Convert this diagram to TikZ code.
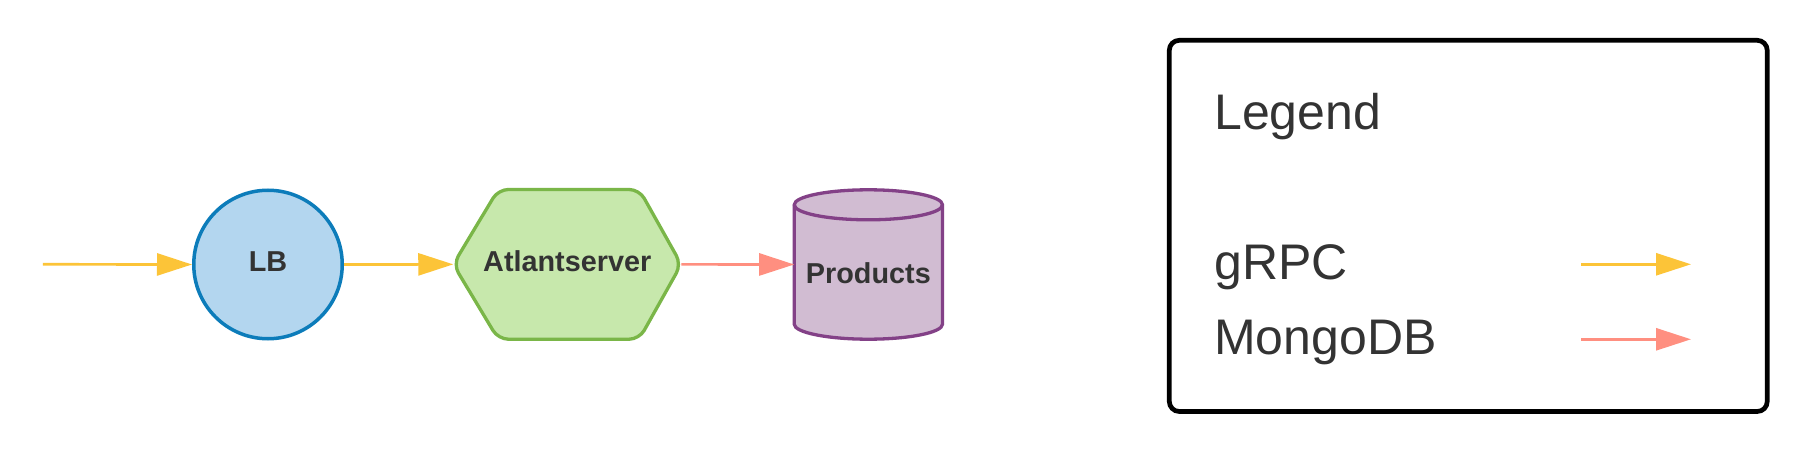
\documentclass[tikz,border=0pt]{standalone}
\usepackage{fontspec}
\setmainfont{Liberation Sans}
\usetikzlibrary{arrows.meta,calc}
\definecolor{cyel}{HTML}{FCC438}
\definecolor{csal}{HTML}{FF8F80}
\definecolor{lbfill}{HTML}{B3D6EF}
\definecolor{lbdraw}{HTML}{0C7CBA}
\definecolor{hexfill}{HTML}{C7E8AC}
\definecolor{hexdraw}{HTML}{7AB648}
\definecolor{cylfill}{HTML}{D1BCD2}
\definecolor{cyldraw}{HTML}{834187}
\definecolor{txt}{HTML}{333333}
\tikzset{
  conn/.style={line width=2.7pt,-{Triangle[length=35pt,width=22pt]}},
  grpc/.style={conn,draw=cyel,fill=cyel},
  mongo/.style={conn,draw=csal,fill=csal},
  lbl/.style={font=\fontsize{28.8}{32}\selectfont\bfseries,text=txt},
  legtxt/.style={font=\fontsize{50}{58}\selectfont,text=txt,anchor=base west,inner sep=0pt},
  ghost/.style={draw=none,inner sep=0pt,outer sep=0pt}
}
\begin{document}
\begin{tikzpicture}[x=1pt,y=1pt]
\useasboundingbox (0,0) rectangle (1817,456);
\fill[white] (0,0) rectangle (1817,456);
% nodes
\coordinate (in) at (42.9,191.7);
\node[circle,minimum size=148.5pt,line width=3.5pt,draw=lbdraw,fill=lbfill,lbl,text depth=6pt,inner sep=0pt] (lb) at (268,191.5) {LB};
\node[ghost,minimum width=228pt,minimum height=149.7pt] (atl) at (567.25,191.65) {};
\draw[line width=3.3pt,draw=hexdraw,fill=hexfill,rounded corners=10pt]
  (atl.west) -- ($(atl.north west)+(45,0)$) -- ($(atl.north east)+(-42,0)$) -- (atl.east)
  -- ($(atl.south east)+(-42,0)$) -- ($(atl.south west)+(45,0)$) -- cycle;
\node[lbl,text depth=6pt,inner sep=0pt] (atltxt) at (atl.center) {Atlantserver};
\node[ghost,minimum width=148.3pt,minimum height=149.4pt] (prod) at (868.35,191.5) {};
\draw[line width=3.3pt,draw=cyldraw,fill=cylfill]
  ($(prod.north west)+(0,-15)$) -- ($(prod.south west)+(0,15)$)
  arc[start angle=180,end angle=360,x radius=74.15pt,y radius=15pt]
  -- ($(prod.north east)+(0,-15)$)
  arc[start angle=0,end angle=180,x radius=74.15pt,y radius=15pt] -- cycle;
\draw[line width=3.3pt,draw=cyldraw]
  ($(prod.north west)+(0,-15)$) arc[start angle=180,end angle=360,x radius=74.15pt,y radius=15pt];
\node[lbl,inner sep=0pt] (prodtxt) at (868.35,182.3) {Products};
% connectors
\draw[grpc] (in) -- (lb.west);
\draw[grpc] (lb.east) -- (atl.west);
\draw[mongo] (atl.east) -- (prod.west);
% legend
\node[ghost,minimum width=597.9pt,minimum height=371.2pt,draw=black,line width=4.7pt,rounded corners=10pt] (legend) at (1468.25,230.1) {};
\node[legtxt] (legt) at (1214,326) {Legend};
\node[legtxt] (lg1) at (1214,176.7) {gRPC};
\node[legtxt] (lg2) at (1214,101.7) {MongoDB};
\coordinate (g1a) at (1581,191.7);
\coordinate (g1b) at (1691,191.7);
\coordinate (g2a) at (1581,116.7);
\coordinate (g2b) at (1691,116.7);
\draw[grpc] (g1a) -- (g1b);
\draw[mongo] (g2a) -- (g2b);
\end{tikzpicture}
\end{document}
